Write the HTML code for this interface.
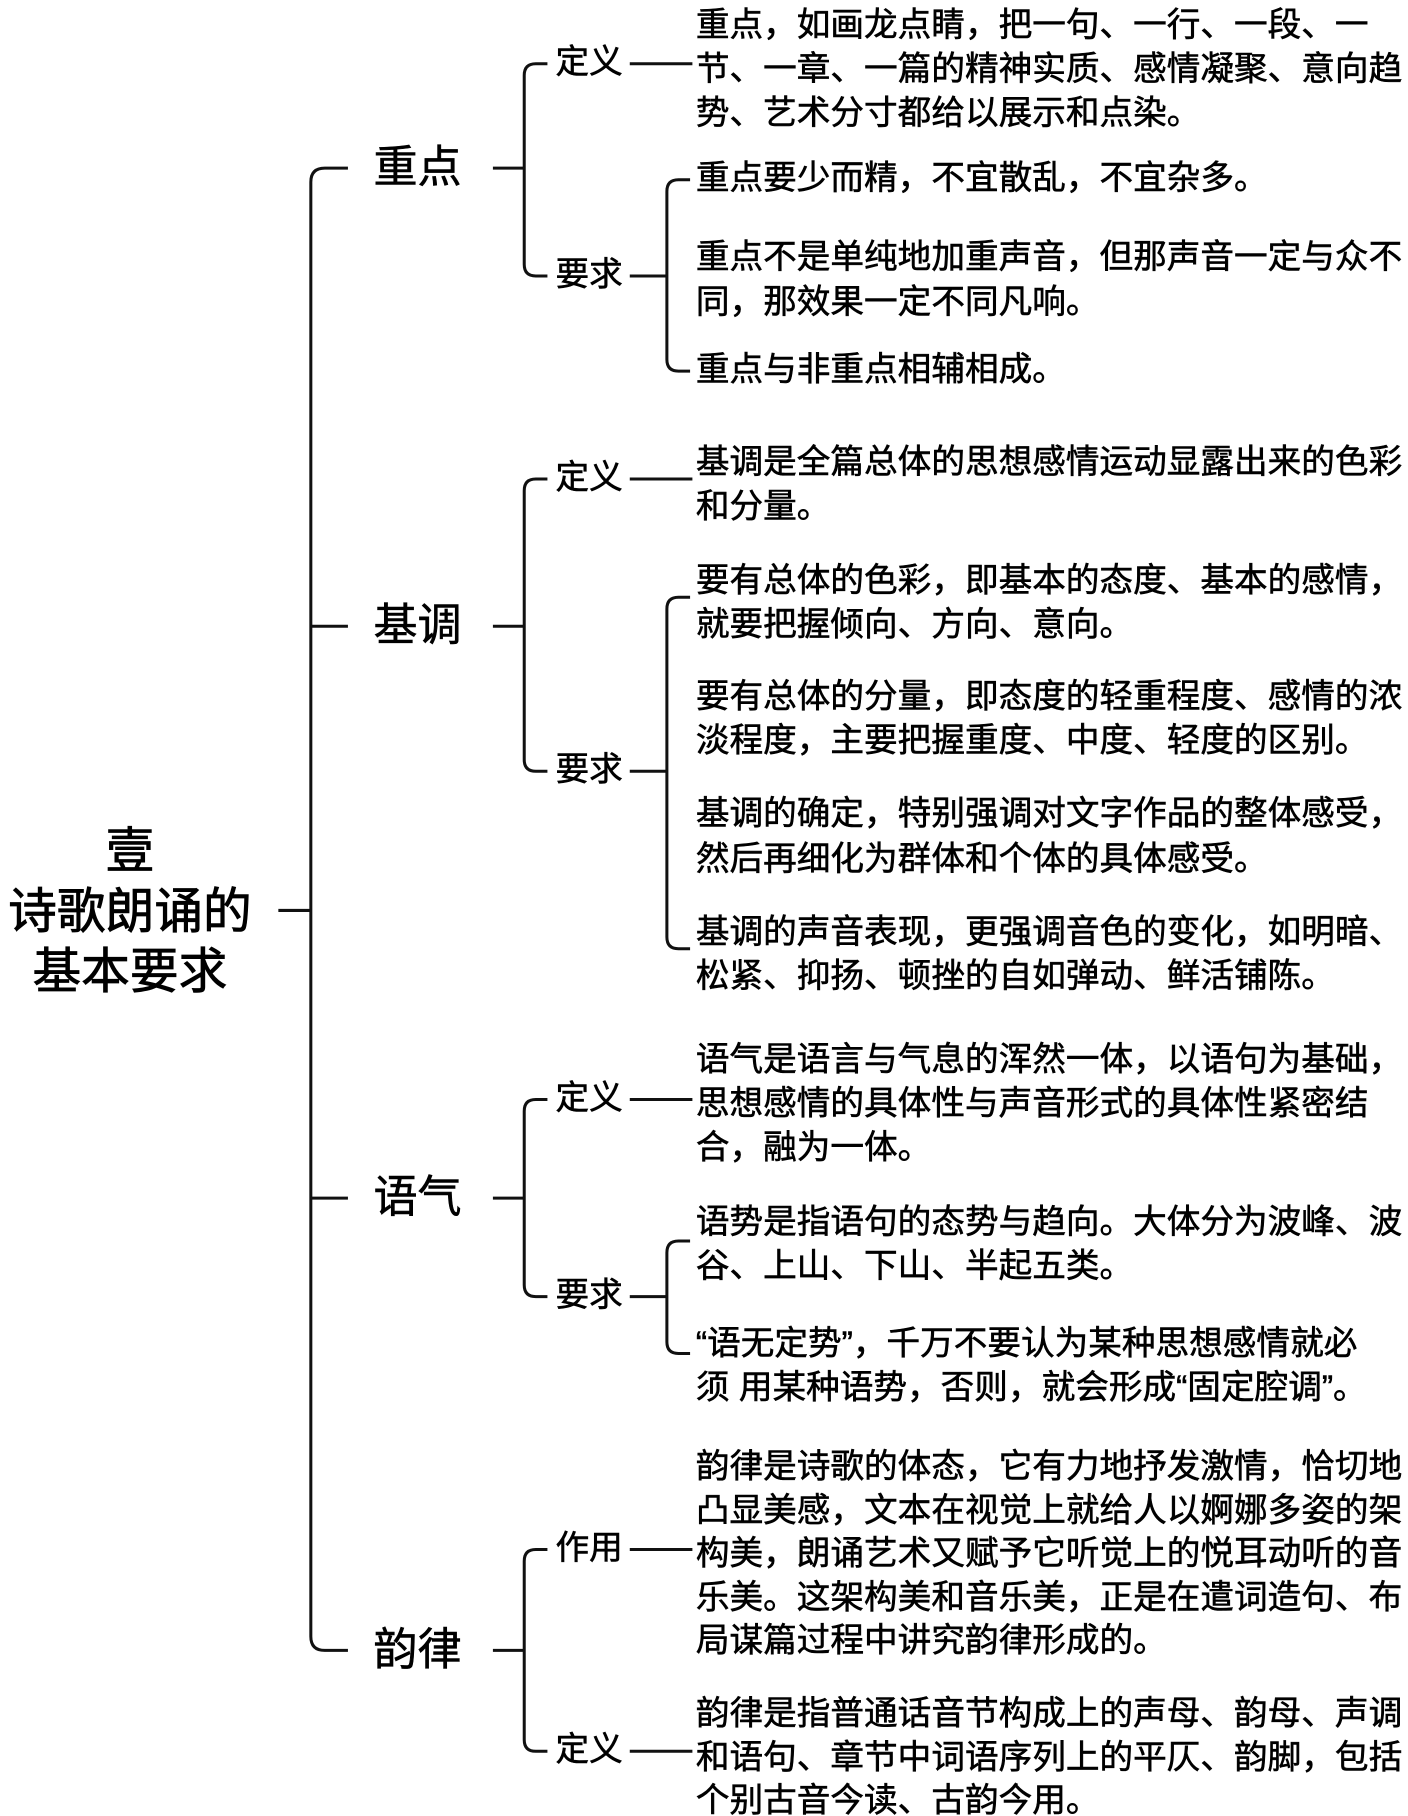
<!DOCTYPE html>
<html><head><meta charset="utf-8"><style>
html,body{margin:0;padding:0;background:#fff;}
#wrap{position:relative;width:1408px;height:1816px;overflow:hidden;}
#c{position:absolute;left:0;top:0;width:1214px;height:1566px;transform:scale(1.1598);transform-origin:0 0;}
.t{position:absolute;white-space:nowrap;font-family:"Liberation Sans","Noto Sans CJK SC",sans-serif;color:#000;-webkit-text-stroke:0.5px #000;}
.s{font-size:29px;line-height:29px;}
.m{font-size:29px;line-height:29px;}
.l{font-size:38px;line-height:38px;}
svg{position:absolute;left:0;top:0;}
</style></head><body><div id="wrap"><div id="c">
<svg width="1214" height="1566" fill="none" stroke="#111" stroke-width="2.6">
<line x1="240" y1="785" x2="268" y2="785"/>
<path d="M300 145 H280 Q268 145 268 157 V1411 Q268 1423 280 1423 H300"/>
<line x1="268" y1="540" x2="300" y2="540"/>
<line x1="268" y1="1033" x2="300" y2="1033"/>
<line x1="425" y1="145" x2="452" y2="145"/>
<path d="M472 55 H462 Q452 55 452 65 V228 Q452 238 462 238 H472"/>
<line x1="543" y1="55" x2="597" y2="55"/>
<line x1="543" y1="238" x2="575" y2="238"/>
<path d="M595 155 H585 Q575 155 575 165 V310 Q575 320 585 320 H595"/>
<line x1="425" y1="540" x2="452" y2="540"/>
<path d="M472 413 H462 Q452 413 452 423 V655 Q452 665 462 665 H472"/>
<line x1="543" y1="413" x2="597" y2="413"/>
<line x1="543" y1="665" x2="575" y2="665"/>
<path d="M595 515 H585 Q575 515 575 525 V808 Q575 818 585 818 H595"/>
<line x1="425" y1="1033" x2="452" y2="1033"/>
<path d="M472 948 H462 Q452 948 452 958 V1108 Q452 1118 462 1118 H472"/>
<line x1="543" y1="948" x2="597" y2="948"/>
<line x1="543" y1="1118" x2="575" y2="1118"/>
<path d="M595 1070 H585 Q575 1070 575 1080 V1157 Q575 1167 585 1167 H595"/>
<line x1="425" y1="1423" x2="452" y2="1423"/>
<path d="M472 1336 H462 Q452 1336 452 1346 V1500 Q452 1510 462 1510 H472"/>
<line x1="543" y1="1336" x2="597" y2="1336"/>
<line x1="543" y1="1510" x2="597" y2="1510"/>
</svg>
<div class="t" style="left:0;width:224px;top:708px;font-size:42px;line-height:52px;text-align:center;-webkit-text-stroke:0.7px #000;">壹<br>诗歌朗诵的<br>基本要求</div>
<div class="t l" style="left:322px;top:126px">重点</div>
<div class="t l" style="left:322px;top:521px">基调</div>
<div class="t l" style="left:322px;top:1014px">语气</div>
<div class="t l" style="left:322px;top:1404px">韵律</div>
<div class="t m" style="left:479px;top:40px">定义</div>
<div class="t m" style="left:479px;top:223px">要求</div>
<div class="t m" style="left:479px;top:398px">定义</div>
<div class="t m" style="left:479px;top:650px">要求</div>
<div class="t m" style="left:479px;top:933px">定义</div>
<div class="t m" style="left:479px;top:1103px">要求</div>
<div class="t m" style="left:479px;top:1321px">作用</div>
<div class="t m" style="left:479px;top:1495px">定义</div>
<div class="t s" style="left:600px;top:3px;line-height:38px">重点，如画龙点睛，把一句、一行、一段、一<br>节、一章、一篇的精神实质、感情凝聚、意向趋<br>势、艺术分寸都给以展示和点染。</div>
<div class="t s" style="left:600px;top:140px">重点要少而精，不宜散乱，不宜杂多。</div>
<div class="t s" style="left:600px;top:203px;line-height:39px">重点不是单纯地加重声音，但那声音一定与众不<br>同，那效果一定不同凡响。</div>
<div class="t s" style="left:600px;top:305px">重点与非重点相辅相成。</div>
<div class="t s" style="left:600px;top:380px;line-height:38px">基调是全篇总体的思想感情运动显露出来的色彩<br>和分量。</div>
<div class="t s" style="left:600px;top:482px;line-height:38px">要有总体的色彩，即基本的态度、基本的感情，<br>就要把握倾向、方向、意向。</div>
<div class="t s" style="left:600px;top:582px;line-height:38px">要有总体的分量，即态度的轻重程度、感情的浓<br>淡程度，主要把握重度、中度、轻度的区别。</div>
<div class="t s" style="left:600px;top:683px;line-height:39px">基调的确定，特别强调对文字作品的整体感受，<br>然后再细化为群体和个体的具体感受。</div>
<div class="t s" style="left:600px;top:785px;line-height:38px">基调的声音表现，更强调音色的变化，如明暗、<br>松紧、抑扬、顿挫的自如弹动、鲜活铺陈。</div>
<div class="t s" style="left:600px;top:895px;line-height:38px">语气是语言与气息的浑然一体，以语句为基础，<br>思想感情的具体性与声音形式的具体性紧密结<br>合，融为一体。</div>
<div class="t s" style="left:600px;top:1035px;line-height:38px">语势是指语句的态势与趋向。大体分为波峰、波<br>谷、上山、下山、半起五类。</div>
<div class="t s" style="left:600px;top:1140px;line-height:38px">“语无定势”，千万不要认为某种思想感情就必<br>须 用某种语势，否则，就会形成“固定腔调”。</div>
<div class="t s" style="left:600px;top:1247px;line-height:37.5px">韵律是诗歌的体态，它有力地抒发激情，恰切地<br>凸显美感，文本在视觉上就给人以婀娜多姿的架<br>构美，朗诵艺术又赋予它听觉上的悦耳动听的音<br>乐美。这架构美和音乐美，正是在遣词造句、布<br>局谋篇过程中讲究韵律形成的。</div>
<div class="t s" style="left:600px;top:1460px;line-height:37.5px">韵律是指普通话音节构成上的声母、韵母、声调<br>和语句、章节中词语序列上的平仄、韵脚，包括<br>个别古音今读、古韵今用。</div>
</div></div></body></html>
